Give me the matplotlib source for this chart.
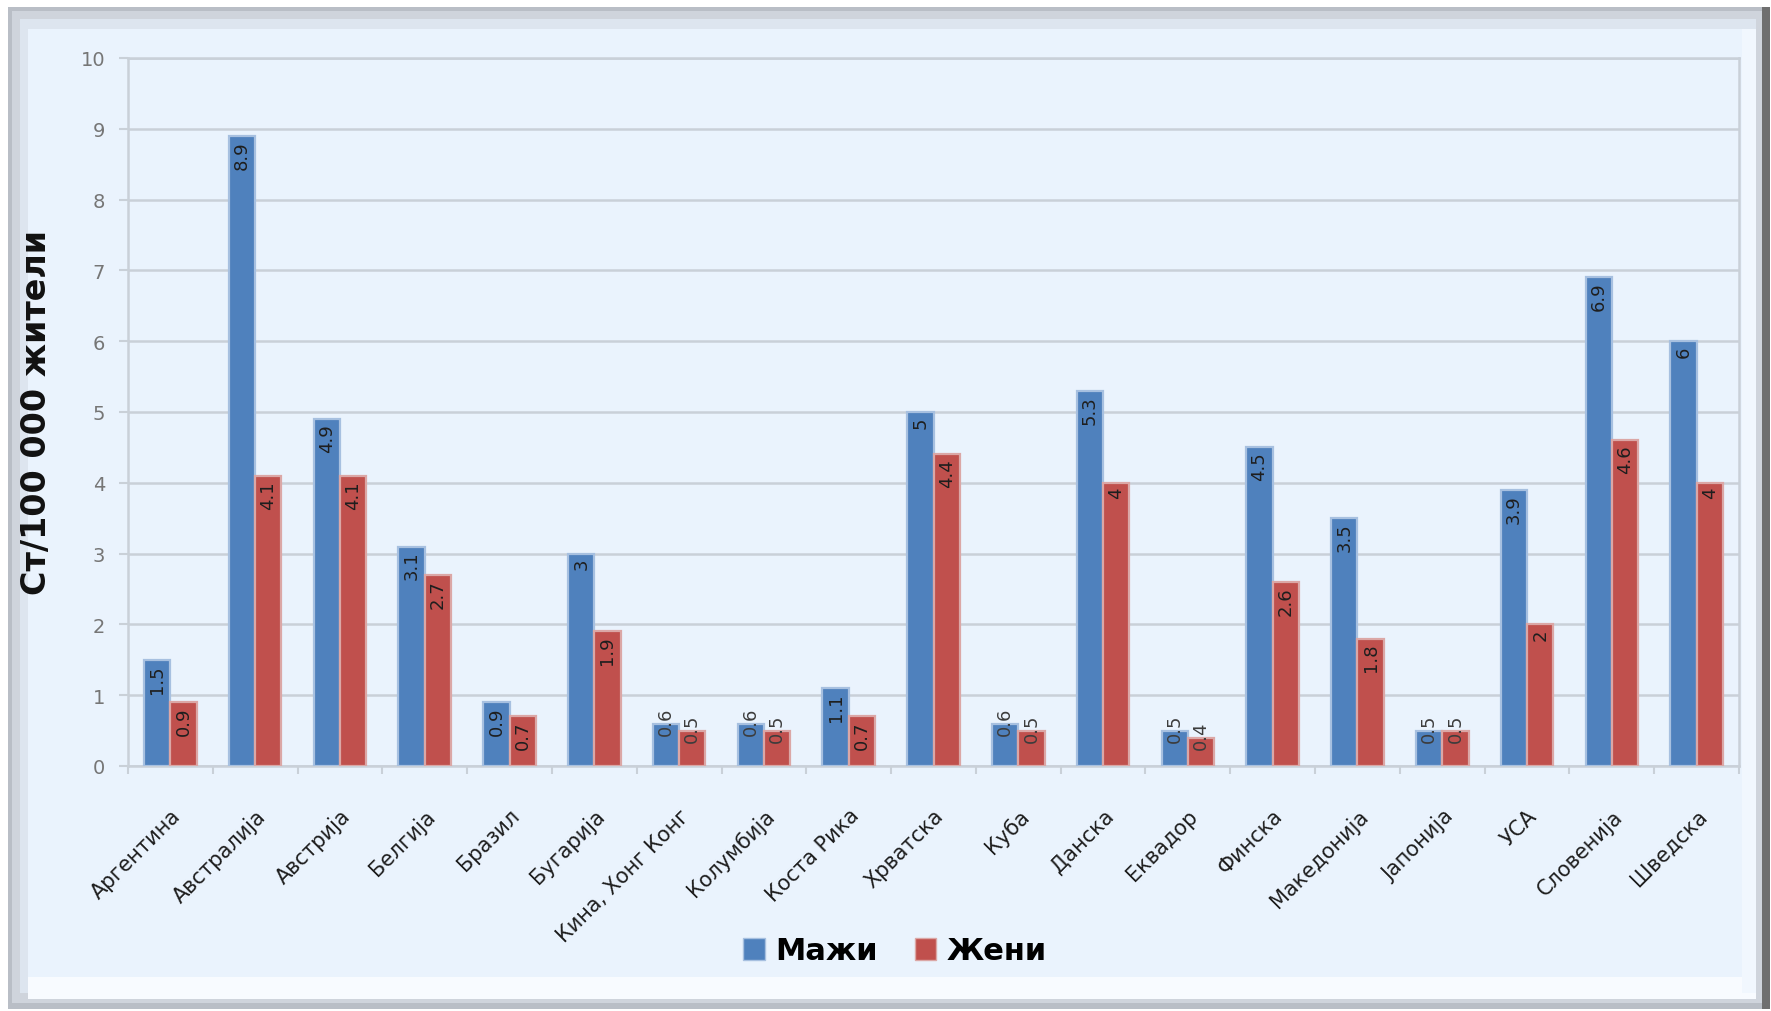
import numpy as np
import matplotlib
matplotlib.use("Agg")
from matplotlib import pyplot as plt
from matplotlib.patches import Rectangle, Patch

# countries (Macedonian names)
drzavi = ["Аргентина", "Австралија", "Австрија", "Белгија", "Бразил", "Бугарија",
          "Кина, Хонг Конг", "Колумбија", "Коста Рика", "Хрватска", "Куба", "Данска",
          "Еквадор", "Финска", "Македонија", "Јапонија", "УСА", "Словенија", "Шведска"]
mazi = [1.5, 8.9, 4.9, 3.1, 0.9, 3, 0.6, 0.6, 1.1, 5, 0.6, 5.3, 0.5, 4.5, 3.5, 0.5, 3.9, 6.9, 6]
zeni = [0.9, 4.1, 4.1, 2.7, 0.7, 1.9, 0.5, 0.5, 0.7, 4.4, 0.5, 4, 0.4, 2.6, 1.8, 0.5, 2, 4.6, 4]
serii = ["Мажи", "Жени"]
y_oznaka = "Ст/100 000 жители"

W, H = 1771, 1012
plt.rcParams['font.family'] = ['DejaVu Sans']

fig = plt.figure(figsize=(W / 100, H / 100), dpi=100)
fig.patch.set_facecolor("white")

def px_rect(x0, y0, x1, y1, color, z=-10):
    # rectangle given in pixel coords measured from the top left corner
    fig.patches.append(Rectangle((x0 / W, 1 - y1 / H), (x1 - x0) / W, (y1 - y0) / H,
                                 transform=fig.transFigure, facecolor=color,
                                 edgecolor="none", zorder=z))

# bevelled frame around the chart area
px_rect(8, 8, 1770, 1010, "#b9bec6")
px_rect(12, 12, 1762, 1004, "#cfd4dc")
px_rect(20, 20, 1756, 994, "#dde5ef")
px_rect(28, 30, 1748, 978, "#eaf3fd")
px_rect(28, 978, 1756, 1000, "#f8fbff")
px_rect(1742, 30, 1756, 994, "#f1f7fe")
px_rect(1762, 8, 1770, 1010, "#6f6f6f")

ax = fig.add_axes([128 / W, 1 - 767 / H, (1739 - 128) / W, (767 - 59) / H])
ax.set_facecolor("#eaf3fd")
ax.set_zorder(1)

x = np.arange(len(drzavi))
w = 0.31
blue, red = "#4f81bd", "#c0504d"
b1 = ax.bar(x - w / 2, mazi, w, color=blue, edgecolor="#a7c0e0", linewidth=1.6, zorder=3)
b2 = ax.bar(x + w / 2, zeni, w, color=red, edgecolor="#dba7a6", linewidth=1.6, zorder=3)

# value labels, rotated, at the top of each bar
for xs, vals in ((x - w / 2, mazi), (x + w / 2, zeni)):
    for xi, v in zip(xs, vals):
        lab = f"{v:g}"
        if v >= 0.7:
            ax.annotate(lab, (xi, v), xytext=(0, -3), textcoords="offset points",
                        rotation=90, ha="center", va="top", fontsize=13,
                        color="#1e1e1e", zorder=4)
        else:
            ax.annotate(lab, (xi, v), xytext=(0, 2), textcoords="offset points",
                        rotation=90, ha="center", va="center", fontsize=13,
                        color="#3c3c3c", zorder=4)

ax.set_xlim(-0.5, len(drzavi) - 0.5)
ax.set_ylim(0, 10)
ax.set_yticks(np.arange(0, 11, 1))
ax.yaxis.grid(True, color="#c9d0d8", linewidth=1.8, zorder=0)
ax.set_axisbelow(True)
ax.tick_params(axis="y", length=6.5, width=1.5, color="#c9d0d8", pad=10,
               labelsize=14, labelcolor="#767676")

ax.set_xticks(x)
ax.set_xticklabels(drzavi, rotation=45, ha="right", rotation_mode="anchor",
                   fontsize=15, color="#1e1e1e")
ax.tick_params(axis="x", which="major", length=0, pad=28)
ax.set_xticks(np.arange(-0.5, len(drzavi), 1), minor=True)
ax.tick_params(axis="x", which="minor", length=6, width=1.5, color="#c9d0d8")

for s in ax.spines.values():
    s.set_color("#c9d0d8")
    s.set_linewidth(1.8)

fig.text(37 / W, 1 - 413 / H, y_oznaka, rotation=90, ha="center", va="center",
         fontsize=24, fontweight="bold", color="#111111")

handles = [Patch(facecolor=blue, edgecolor="#a7c0e0"), Patch(facecolor=red, edgecolor="#dba7a6")]
fig.legend(handles, serii, loc="center", bbox_to_anchor=(895 / W, 1 - 952 / H),
           ncol=2, frameon=False, handlelength=0.7, handleheight=0.7,
           handletextpad=0.35, columnspacing=1.2,
           prop={"size": 22, "weight": "bold"})

fig.savefig("out.png", dpi=100, facecolor=fig.get_facecolor())
